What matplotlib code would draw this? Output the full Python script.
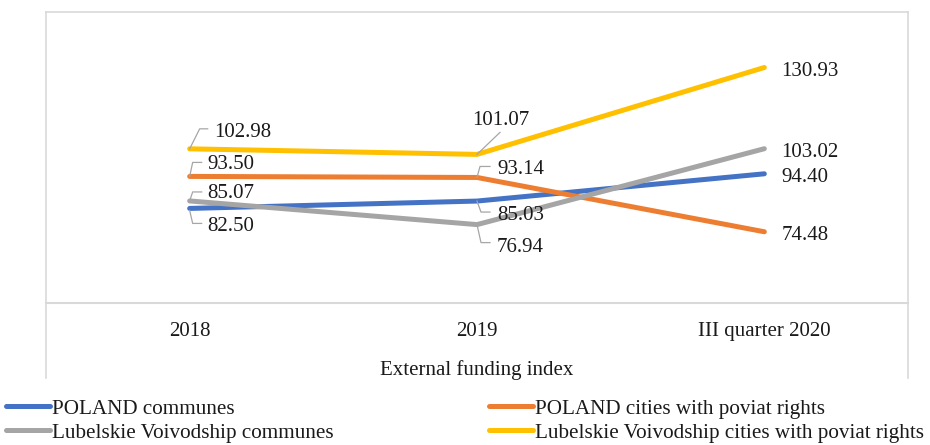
import matplotlib
matplotlib.use('Agg')
import matplotlib.pyplot as plt
from matplotlib.lines import Line2D

plt.rcParams['font.family'] = ['Liberation Serif', 'DejaVu Serif']

periods = ['2018', '2019', 'III quarter 2020']
poland_communes = [82.50, 85.03, 94.40]
poland_cities = [93.50, 93.14, 74.48]
lubelskie_communes = [85.07, 76.94, 103.02]
lubelskie_cities = [102.98, 101.07, 130.93]

series = [
    ('POLAND communes', poland_communes, '#4472C4'),
    ('POLAND cities with poviat rights', poland_cities, '#ED7D31'),
    ('Lubelskie Voivodship communes', lubelskie_communes, '#A5A5A5'),
    ('Lubelskie Voivodship cities with poviat rights', lubelskie_cities, '#FFC000'),
]

# label placement per series and point: text offset (px) and leader polyline (px)
label_pos = {
    'POLAND communes': [((18, -18), [(0, -2), (3, -15), (12, -15)]),
                        ((20, -14), [(0, 0), (4, -11), (13, -11)]),
                        ((17, -4), None)],
    'POLAND cities with poviat rights': [((18, 12), [(0, 0), (3, 14), (12, 14)]),
                                         ((20, 8), [(0, 0), (3, 11), (13, 11)]),
                                         ((17, -4), None)],
    'Lubelskie Voivodship communes': [((18, 7), [(0, 0), (3, 9), (12, 9)]),
                                      ((20, -23), [(0, 0), (4, -18), (13, -18)]),
                                      ((17, -4), None)],
    'Lubelskie Voivodship cities with poviat rights': [((25, 16), [(0, 0), (10, 20), (18, 20)]),
                                                       ((-5, 34), [(0, 0), (23, 22)]),
                                                       ((17, -4), None)],
}

W, H = 930, 445
fig = plt.figure(figsize=(W / 100, H / 100), dpi=100)
ax = fig.add_axes([46 / W, 1 - 303 / H, 862 / W, 291 / H])

x = list(range(len(periods)))
handles = {}
for name, vals, col in series:
    ln, = ax.plot(x, vals, color=col, lw=3.6, solid_capstyle='round', label=name, zorder=3)
    handles[name] = ln

ax.set_xlim(-0.5, 2.5)
ax.set_ylim(50, 150)
ax.set_yticks([])
ax.set_xticks(x, periods, fontsize=15, color='#1a1a1a')
ax.tick_params(axis='x', length=0, pad=13.5)
ax.set_xlabel('External funding index', fontsize=15, color='#1a1a1a', labelpad=14)
for s in ['left', 'right', 'top']:
    ax.spines[s].set_visible(False)
ax.spines['bottom'].set_color('#D9D9D9')
ax.spines['bottom'].set_linewidth(1.5)

# data labels with leader lines
for name, vals, col in series:
    for i, v in enumerate(vals):
        (dx, dy), leader = label_pos[name][i]
        ax.annotate(f'{v:.2f}', (i, v), xytext=(dx, dy), textcoords='offset pixels',
                    ha='left', va='center', fontsize=15, color='#1a1a1a', zorder=5)
        if leader:
            px, py = ax.transData.transform((i, v))
            xs = [px + a for a, b in leader]
            ys = [py + b for a, b in leader]
            fig.add_artist(Line2D(xs, ys, transform=None, color='#A6A6A6', lw=0.9, zorder=4))

# chart frame
fx0, fx1 = 46 / W, 908 / W
fy0, fy1 = 1 - 378 / H, 1 - 12 / H
frame_kw = dict(color='#D9D9D9', lw=1.2, transform=fig.transFigure)
fig.add_artist(Line2D([fx0, fx0], [fy0, fy1], **frame_kw))
fig.add_artist(Line2D([fx1, fx1], [fy0, fy1], **frame_kw))
fig.add_artist(Line2D([fx0, fx1], [fy1, fy1], **frame_kw))

leg_kw = dict(frameon=False, fontsize=15.2, handlelength=2.1, handletextpad=0.1,
              borderpad=0, borderaxespad=0, labelspacing=0.2, labelcolor='#1a1a1a')
order1 = ['POLAND communes', 'Lubelskie Voivodship communes']
order2 = ['POLAND cities with poviat rights', 'Lubelskie Voivodship cities with poviat rights']
fig.legend([handles[n] for n in order1], order1, loc='upper left',
           bbox_to_anchor=(6 / W, 1 - 399 / H), **leg_kw)
fig.legend([handles[n] for n in order2], order2, loc='upper left',
           bbox_to_anchor=(489 / W, 1 - 399 / H), **leg_kw)

fig.savefig('out.png', dpi=100)
